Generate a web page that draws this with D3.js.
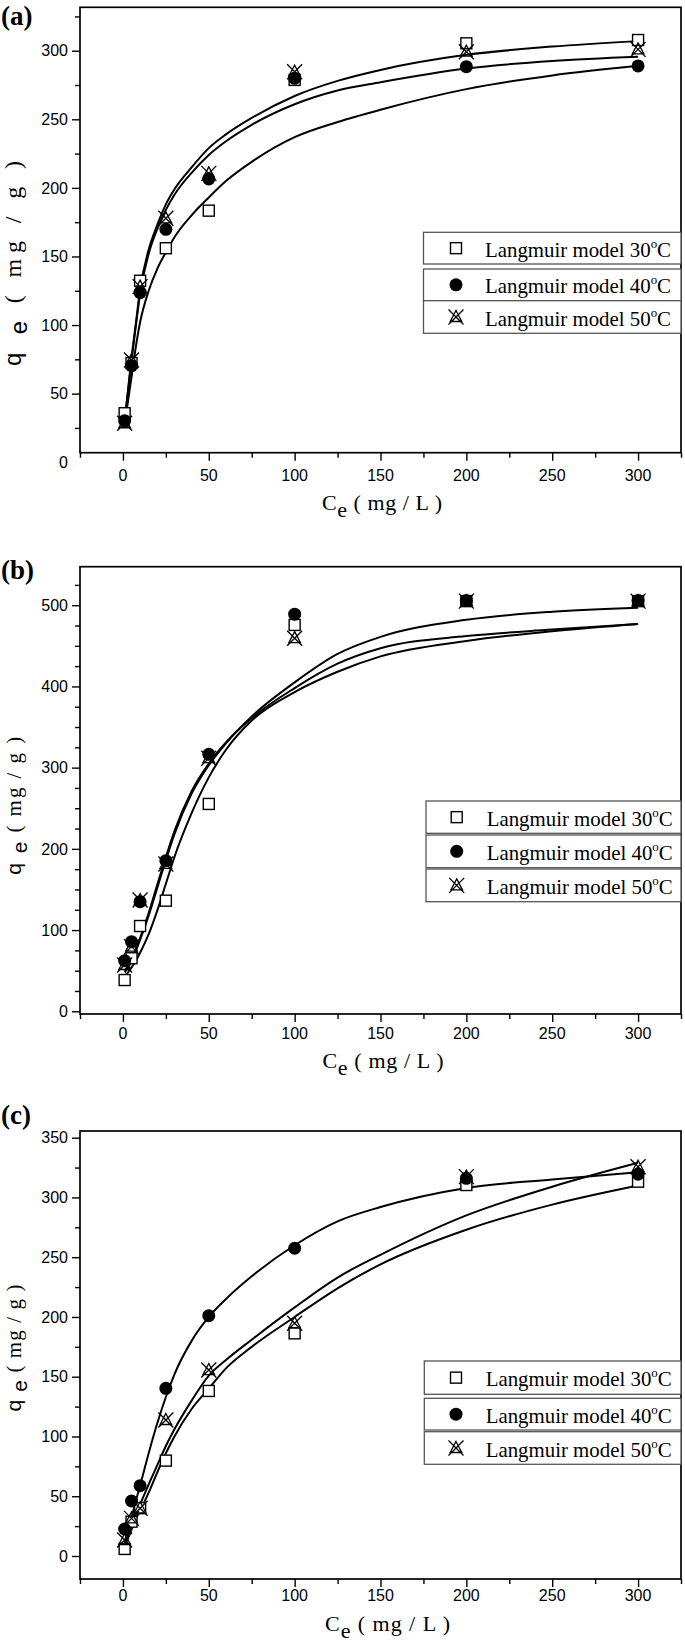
<!DOCTYPE html>
<html><head><meta charset="utf-8">
<script src="https://cdn.jsdelivr.net/npm/d3@7"></script>
<style>body{margin:0;background:#fff} svg{display:block}</style>
</head><body>
<script>
// ---------- DATA ----------
const ceValues = [1, 5, 10, 25, 50, 100, 200, 300];
const fitCe = [1, 3, 5, 7.5, 10, 15, 20, 25, 30, 40, 50, 60, 75, 100, 125, 150, 200, 250, 300];

// panel (a)
const qA30 = [35.7, 72.3, 132.3, 156, 183.4, 278.7, 305.4, 307.8];
const qA40 = [30.3, 70.4, 123.6, 169.8, 206.5, 279.9, 288.4, 288.9];
const qA50 = [28.4, 74.5, 128, 177.8, 210.6, 284.7, 299.3, 301];
const fitA1 = [30, 53, 76, 101, 126, 155, 173, 188, 199, 215, 229, 239, 251, 267, 278, 286, 297, 303, 307];
const fitA2 = [30, 52, 74, 99, 123, 152, 170, 184, 195, 211, 224, 234, 246, 261, 271, 277, 287, 292.5, 295.6];
const fitA3 = [28, 45, 62, 84, 102, 125, 141, 153, 164, 180, 193, 205, 219, 237, 248, 257, 272, 282, 289];

// panel (b)
const qB30 = [38.5, 65.3, 105, 136.2, 255.3, 475.7, 505, 505];
const qB40 = [62.3, 85.7, 135, 185.5, 316.5, 488.9, 505.7, 505.7];
const qB50 = [57, 79.6, 137, 181.4, 311.6, 459.4, 505, 505];
const fitB1 = [48, 54, 62, 74, 88, 118, 152, 186, 218, 268, 303, 330, 363, 405, 440, 461, 482, 492, 497];
const fitB2 = [50, 56, 64, 76, 90, 121, 156, 190, 222, 271, 305, 331, 361, 398, 428, 447, 462, 470, 477];
const fitB3 = [44, 48, 54, 62, 72, 95, 124, 157, 190, 244, 288, 322, 358, 393, 418, 437, 456, 468, 477];

// panel (c)
const qC30 = [5.9, 28.7, 40, 79.8, 138.1, 186.3, 310.4, 313.2];
const qC40 = [22.6, 46, 58.8, 140.3, 201.1, 257.5, 316, 319.4];
const qC50 = [13.4, 31.5, 39.9, 113.8, 155.6, 194.7, 317.4, 325.7];
const fitC1 = [12, 22, 32, 46, 59, 86, 111, 133, 152, 180, 200, 215, 234, 260, 280, 292, 308, 315, 321];
const fitC2 = [10, 18, 26, 35, 43, 60, 76, 92, 106, 130, 151, 164, 181, 208, 233, 252, 285, 309, 329];
const fitC3 = [8, 15, 22, 31, 38, 53, 70, 86, 100, 123, 140, 157, 175, 200, 224, 244, 273, 294, 310];

// ticks / labels
const xTickLabels = [0, 50, 100, 150, 200, 250, 300];
const yTickLabelsA = [0, 50, 100, 150, 200, 250, 300];
const yTickLabelsB = [0, 100, 200, 300, 400, 500];
const yTickLabelsC = [0, 50, 100, 150, 200, 250, 300, 350];
const legendTemps = ["30", "40", "50"];
const panelNames = ["(a)", "(b)", "(c)"];

// ---------- LAYOUT ----------
const W = 685, H = 1643;
const X0 = 80, X1 = 681;
const xDomain = [-25, 325];

const panels = [
  { name: panelNames[0], nameY: 25, top: 7.3, bottom: 452.7, yDomain: [6.93, 331.66], yTicks: yTickLabelsA, majorStep: 50,
    q: [qA30, qA40, qA50], fits: [fitA1, fitA2, fitA3],
    xLabY: 480.8, xTitleY: 510, xTitleX: 382, xTitleLen: 120,
    yTitleY: 263.5, yTitleLen: 205, yTitleSize: 24,
    legX0: 423.5, legRows: [[232.3, 264], [269, 300.7], [300.7, 333.3]], legSymX: 456, legTextX: 485 },
  { name: panelNames[1], nameY: 579, top: 566.7, bottom: 1014, yDomain: [-3.33, 547.4], yTicks: yTickLabelsB, majorStep: 100,
    q: [qB30, qB40, qB50], fits: [fitB1, fitB2, fitB3],
    xLabY: 1039, xTitleY: 1068.3, xTitleX: 383, xTitleLen: 121,
    yTitleY: 805.8, yTitleLen: 138, yTitleSize: 21,
    legX0: 426, legRows: [[801, 833.3], [835, 867.7], [869, 901.7]], legSymX: 456.7, legTextX: 486.7 },
  { name: panelNames[2], nameY: 1124, top: 1131, bottom: 1579, yDomain: [-19.25, 355.6], yTicks: yTickLabelsC, majorStep: 50,
    q: [qC30, qC40, qC50], fits: [fitC1, fitC2, fitC3],
    xLabY: 1601, xTitleY: 1631.3, xTitleX: 387.5, xTitleLen: 125,
    yTitleY: 1348, yTitleLen: 127, yTitleSize: 21,
    legX0: 424.3, legRows: [[1361, 1394.3], [1398.3, 1430], [1431.7, 1464.3]], legSymX: 456, legTextX: 485.7 }
];

const SANS = "'Liberation Sans', Arial, sans-serif";
const SERIF = "'Liberation Serif', 'DejaVu Serif', serif";

const svg = d3.select('body').append('svg').attr('width', W).attr('height', H)
  .style('background', '#fff');

const crossTri = "M-7.5,-7.5L7.5,7.5M-7.5,7.5L7.5,-7.5M0,-6.5L5.8,4.5L-5.8,4.5Z";

function drawMarker(sel, kind) {
  if (kind === 0) {
    sel.append('rect').attr('x', -5.5).attr('y', -5.5).attr('width', 11).attr('height', 11)
      .attr('fill', '#fff').attr('stroke', '#000').attr('stroke-width', 1.4);
  } else if (kind === 1) {
    sel.append('circle').attr('r', 6.5).attr('fill', '#000');
  } else {
    sel.append('path').attr('d', crossTri).attr('fill', 'none').attr('stroke', '#000').attr('stroke-width', 1.3);
  }
}

panels.forEach(p => {
  const g = svg.append('g');
  const x = d3.scaleLinear().domain(xDomain).range([X0, X1]);
  const y = d3.scaleLinear().domain(p.yDomain).range([p.bottom, p.top]);

  // panel name
  g.append('text').attr('x', 1).attr('y', p.nameY).text(p.name)
    .style('font-family', SERIF).attr('font-weight', 'bold').attr('font-size', 27);

  // x axis ticks
  const xAll = d3.range(-25, 326, 25);
  g.append('g').attr('transform', `translate(0,${p.bottom})`)
    .call(d3.axisBottom(x).tickValues(xAll.filter(v => v % 50 !== 0)).tickSize(5).tickFormat(''))
    .call(s => s.select('.domain').remove())
    .call(s => s.selectAll('line').attr('stroke-width', 1.4));
  g.append('g').attr('transform', `translate(0,${p.bottom})`)
    .call(d3.axisBottom(x).tickValues(xTickLabels).tickSize(8).tickFormat(''))
    .call(s => s.select('.domain').remove())
    .call(s => s.selectAll('line').attr('stroke-width', 1.4));
  g.selectAll('.xl').data(xTickLabels).join('text')
    .attr('x', d => x(d)).attr('y', p.xLabY).attr('text-anchor', 'middle')
    .style('font-family', SANS).attr('font-size', 16).text(d => d);

  // y axis ticks
  const [d0, d1] = p.yDomain;
  const yMinor = d3.range(Math.ceil(d0 / 25) * 25, d1, 25).filter(v => v % p.majorStep !== 0);
  g.append('g').attr('transform', `translate(${X0},0)`)
    .call(d3.axisLeft(y).tickValues(yMinor).tickSize(5).tickFormat(''))
    .call(s => s.select('.domain').remove())
    .call(s => s.selectAll('line').attr('stroke-width', 1.4));
  const yMajor = p.yTicks.filter(v => v >= d0 && v <= d1);
  g.append('g').attr('transform', `translate(${X0},0)`)
    .call(d3.axisLeft(y).tickValues(yMajor).tickSize(8).tickFormat(''))
    .call(s => s.select('.domain').remove())
    .call(s => s.selectAll('line').attr('stroke-width', 1.4));
  g.selectAll('.yl').data(p.yTicks).join('text')
    .attr('x', 68).attr('y', d => y(d)).attr('dy', '0.36em').attr('text-anchor', 'end')
    .style('font-family', SANS).attr('font-size', 16).text(d => d);

  // frame
  g.append('rect').attr('x', X0).attr('y', p.top).attr('width', X1 - X0).attr('height', p.bottom - p.top)
    .attr('fill', 'none').attr('stroke', '#000').attr('stroke-width', 1.7);

  // x title
  const xt = g.append('text').attr('x', p.xTitleX - p.xTitleLen / 2).attr('y', p.xTitleY)
    .style('font-family', SERIF).attr('font-size', 22)
    .attr('textLength', p.xTitleLen).attr('lengthAdjust', 'spacing');
  xt.append('tspan').text('C');
  xt.append('tspan').attr('dy', 7).text('e');
  xt.append('tspan').attr('dy', -7).text(' ( mg / L )');

  // y title
  const yt = g.append('text').attr('transform', `translate(21,${p.yTitleY}) rotate(-90)`)
    .attr('x', -p.yTitleLen / 2).attr('y', 0)
    .attr('font-size', p.yTitleSize)
    .attr('textLength', p.yTitleLen).attr('lengthAdjust', 'spacing');
  yt.append('tspan').style('font-family', SANS).text('q');
  yt.append('tspan').style('font-family', SANS).attr('dy', 6).text(' e');
  yt.append('tspan').style('font-family', SERIF).attr('dy', -6).text(' ( mg / g )');

  // fitted curves
  const line = d3.line().x((d, i) => x(fitCe[i])).y(d => y(d)).curve(d3.curveMonotoneX);
  p.fits.forEach(f => {
    g.append('path').attr('d', line(f)).attr('fill', 'none').attr('stroke', '#000').attr('stroke-width', 2);
  });

  // points
  p.q.forEach((series, k) => {
    g.selectAll(`.m${k}`).data(series).join('g')
      .attr('transform', (d, i) => `translate(${x(ceValues[i])},${y(d)})`)
      .each(function () { drawMarker(d3.select(this), k); });
  });

  // legend
  p.legRows.forEach((r, k) => {
    const [ya, yb] = r;
    g.append('rect').attr('x', p.legX0).attr('y', ya).attr('width', X1 - p.legX0).attr('height', yb - ya)
      .attr('fill', '#fff').attr('stroke', '#555').attr('stroke-width', 1.3);
    const cy = (ya + yb) / 2;
    const sym = g.append('g').attr('transform', `translate(${p.legSymX},${cy})`);
    drawMarker(sym, k);
    const t = g.append('text').attr('x', p.legTextX).attr('y', cy + 8.5)
      .style('font-family', SERIF).attr('font-size', 21)
      .attr('textLength', 186).attr('lengthAdjust', 'spacingAndGlyphs');
    t.append('tspan').text('Langmuir model ' + legendTemps[k]);
    t.append('tspan').attr('font-size', 13).attr('dy', -9).text('o');
    t.append('tspan').attr('dy', 9).text('C');
  });
});
</script>
</body></html>
